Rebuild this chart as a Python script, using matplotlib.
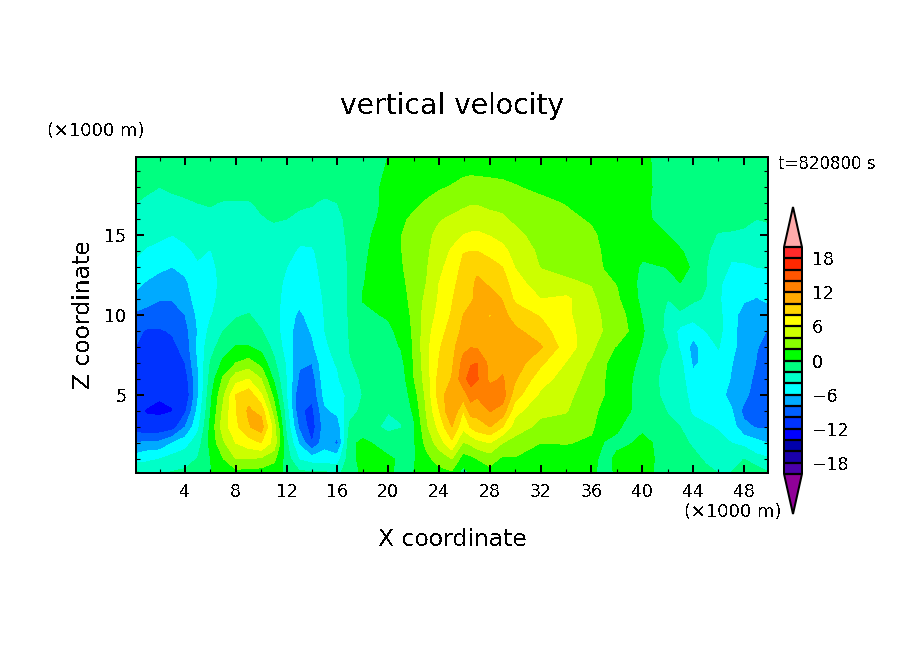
import numpy as np
import matplotlib
matplotlib.use("Agg")
import matplotlib.pyplot as plt

plt.rcParams['font.family'] = ['DejaVu Sans']
plt.rcParams['text.antialiased'] = False

# z levels of the table rows (top to bottom)
z_rows = [20, 18, 17, 16, 15, 14, 13, 12, 11, 10, 9, 8, 7, 6, 5, 4, 3, 2, 1, 0.1]

# x position (km) -> vertical velocity profile, top to bottom
profiles = [
 (0.1, [-1,-1.5,-2,-2.6,-3,-3.7,-4.4,-5.5,-6.5,-8.5,-9.6,-10,-10.8,-11.2,-11.5,-11.9,-11,-8,-5,-1.5]),
 (1,   [-1,-1.8,-2.2,-2.8,-3.4,-4.2,-5,-6.2,-7.2,-8.8,-10.2,-10.5,-11,-11.4,-11.8,-12.05,-11.8,-7.5,-4.5,-2]),
 (2,   [-0.8,-2,-2.4,-3,-3.7,-4.5,-5.6,-6.8,-7.9,-9,-10.2,-10.8,-11,-11.4,-11.9,-12.2,-11.5,-7.5,-4,-2.2]),
 (3,   [-0.9,-1.8,-2.3,-2.8,-4,-4.8,-6,-7,-7.9,-8.8,-9.8,-10.5,-11,-11.3,-11.8,-12.05,-11,-6,-3.2,-1.8]),
 (4,   [-0.9,-1.6,-2.2,-2.7,-3.5,-4.5,-5.4,-6.4,-7,-8,-8.8,-9.3,-10,-11,-11.8,-10.4,-8,-4.8,-2.8,-1.6]),
 (5,   [-0.8,-1.5,-2,-2.5,-3,-3.6,-4.3,-4.7,-5.1,-5.6,-5.9,-5.6,-6,-6.5,-6.3,-5.5,-4.5,-3,-1.9,-1.2]),
 (6,   [-0.7,-1.2,-1.9,-2.3,-2.9,-4.1,-4.6,-4.8,-4.6,-4.2,-3.4,-2.7,-1.9,-1.2,-0.5,-0.1,0.5,0.6,0,-0.1]),
 (7,   [-0.7,-1.3,-2.1,-2.4,-2.7,-3,-3.2,-3.4,-3.2,-2.9,-2,-1,0.4,2.3,3.6,4.4,5,3.6,1.9,0.8]),
 (8,   [-0.8,-1.3,-2.1,-2.5,-2.7,-2.9,-3,-3.1,-3,-2.2,-1.2,0.1,2,5.2,8,7.9,7.5,6,4,1.2]),
 (9,   [-0.8,-1.4,-2.1,-2.5,-2.8,-2.9,-3,-3.1,-2.9,-1.9,-1,0.1,2.8,6,9.3,10.3,9.8,7,4,1]),
 (10,  [-0.9,-1.5,-1.8,-2.1,-2.6,-2.9,-3,-3.1,-3,-2.7,-1.9,-0.6,1.3,4,6.2,9.4,11,8,3.6,1]),
 (11,  [-0.9,-1.2,-1.5,-1.9,-2.4,-2.6,-2.7,-2.9,-3,-3,-3,-2.6,-1.6,-0.4,1.4,3,5,5.3,2.5,0.6]),
 (12,  [-1,-1.1,-1.4,-2,-2.6,-3.3,-4,-4.6,-5,-5.3,-5.2,-4.8,-4.3,-4.1,-4,-3.2,-2.6,-1.7,-1,-0.3]),
 (13,  [-1,-1.2,-1.7,-2.4,-3.4,-4.3,-4.6,-5,-5.5,-6.3,-6.9,-7.3,-7.7,-8.4,-9.8,-9.7,-8.4,-6.3,-4.2,-1.5]),
 (14,  [-1,-1.3,-1.9,-2.4,-3.5,-4.2,-4.5,-4.7,-5,-5.4,-5.8,-6.4,-8,-9,-9.6,-10.5,-11,-10,-5,-1.5]),
 (15,  [-0.9,-1.4,-2.3,-2.8,-3,-3.2,-3.4,-3.6,-3.8,-3.9,-4,-4.2,-4.4,-4.7,-5.3,-6.4,-7,-6.6,-5.2,-1.5]),
 (16,  [-1,-1.3,-2,-2.4,-2.6,-2.8,-3,-3.2,-3.3,-3.4,-3.5,-3.6,-3.9,-4.2,-4.3,-5.5,-7.2,-8.5,-5,-2.4]),
 (17,  [-0.4,-0.8,-1.2,-1.5,-1.6,-1.7,-1.7,-1.7,-1.7,-1.7,-1.8,-1.9,-2.1,-2.7,-3.8,-2.8,-1.5,-0.3,-0.6,-1]),
 (18,  [-0.6,-0.6,-0.6,-0.5,-0.4,-0.3,-0.2,-0.1,0.1,-0.4,-1,-1.4,-1.6,-1.7,-1.9,-1.5,-0.8,0.3,0.6,0.4]),
 (20,  [0,0.3,0.3,0.4,0.8,1,1.2,1.3,1,0.2,-0.4,-0.6,-1.2,-1.6,-1.7,-1.9,-2.6,-0.6,0.2,0.2]),
 (21,  [0.2,0.5,1,1.6,1.95,1.9,1.7,1.5,1.4,1,0.5,0.1,-0.6,-1.1,-1.4,-1.7,-2.1,-0.9,-0.2,-0.3]),
 (22,  [0.4,0.8,1.5,2.4,2.9,3.3,3.3,2.8,2.5,2.4,2.3,2.2,2.1,1.9,1,0.3,-0.4,-0.3,-0.2,0]),
 (23,  [0.5,1.3,2.2,2.9,3.4,3.6,3.8,4,4.5,5,5.2,5.4,5.2,4.9,4.5,4.1,3.6,2.6,1.4,0.6]),
 (24,  [0.5,1.8,2.7,3.8,4.6,5.1,5.5,6,6.2,6.5,7.2,7.8,8.1,8.7,8.9,7.9,6.6,4.9,2.8,1.2]),
 (25,  [0.8,2.1,3.2,4.3,5.3,6.2,6.8,7.4,7.8,8.2,8.8,9.3,9.6,10.1,11.5,12,10,7.5,4,1.6]),
 (25.9,[0.8,2.5,3.6,4.7,6,7.9,8.5,8.9,9.5,10,10.5,11.5,12.6,13.2,11,8,6.5,3.8,1,-1]),
 (26.5,[0.9,2.6,3.8,5.1,6.2,8,8.9,9.3,9.8,10.5,11,11.9,13.8,15,12.8,11,8.2,4.4,1.4,0.2]),
 (27,  [1,2.5,3.8,5.1,6.3,8,9.2,10.6,10.3,10.6,11.2,11.8,14,14.2,12.3,10.6,9.2,5.2,2,0.8]),
 (28,  [1,2.4,3.5,4.6,5.9,7.4,8.7,9.6,11,9.9,10.3,11,11.4,11.5,13.1,12.1,10,6,2.8,1.3]),
 (29,  [1,2.3,3.4,4.3,5.4,6.5,8,9,9.9,10.6,10.8,11,11.5,12.2,13,11.2,8,4,1.6,0.8]),
 (30,  [0.8,2.1,3,3.6,4.5,5.3,5.9,6.8,7.6,9.1,10.4,10.8,11.1,10.2,8.8,6.6,5,3.2,1.8,1]),
 (32,  [0.7,1.6,2.4,2.9,3.2,3.6,3.9,4.9,6,7.8,9,10.2,8.4,6.8,5.6,4.5,3.4,2,1.2,0.6]),
 (34,  [0.6,1.2,1.9,2.4,2.8,3,3.3,4.4,6.4,6.3,6.5,7,5.9,5.1,4.5,4.1,3.3,2.1,0.9,0.4]),
 (36,  [0.5,0.8,1.4,1.8,2.3,2.5,2.7,3.8,4.6,5,5.2,4.6,3.6,3.2,2.9,2.6,2.3,1.7,0.5,0.3]),
 (37,  [0.6,0.7,1,1.3,1.6,1.8,1.9,2.4,3,3.6,3.8,2.6,2.1,2.05,2,1.4,0.9,-0.1,-0.5,-0.5]),
 (38,  [0.6,0.7,1,1.2,1.4,1.6,1.7,1.9,2.4,3.1,2.9,1.9,1.6,1.3,1,0.7,0.2,-0.3,0.3,0.2]),
 (39,  [0.5,0.6,0.7,0.8,0.9,0.9,0.8,0.6,0.6,1.5,1.9,0.9,0.4,0.15,0.1,0.05,-0.4,-0.1,0.7,0.5]),
 (40,  [0.4,0.5,0.4,0.5,0.6,0.5,-0.3,-0.5,-0.3,-0.1,0.2,-0.1,-0.4,-0.6,-0.5,-0.4,-0.3,0.4,0.9,0.6]),
 (42,  [-0.8,-0.8,-0.9,-0.8,0,0.5,0.05,-0.4,-2,-2.4,-2.5,-2,-2.6,-2.8,-2.7,-2.1,-1.6,-0.6,-1,-0.8]),
 (43,  [-0.7,-0.8,-0.9,-0.9,-0.5,0.1,0.5,0,-1,-2.4,-4.6,-4.3,-3.5,-3.2,-2.9,-2.5,-2,-1.6,-1,-0.8]),
 (44,  [-0.6,-0.8,-1,-1.1,-1,-0.4,-0.2,-0.6,-1.7,-3.1,-5.3,-6.7,-6.3,-5.5,-4.9,-4.4,-3.1,-2.2,-1.6,-1.4]),
 (45,  [-0.9,-1,-1.2,-1.4,-1.6,-1.8,-1.9,-1.9,-2.2,-3,-4,-5,-5.6,-5.4,-5.5,-4.9,-3.7,-3,-2.2,-1.6]),
 (46,  [-1,-1.1,-1.3,-1.5,-2.1,-2.5,-3.1,-3.8,-3.8,-3.6,-3.5,-3.9,-4.5,-5,-5.2,-5,-4.2,-3.4,-2.8,-2]),
 (47,  [-0.9,-1.1,-1.2,-1.4,-2.2,-3.6,-4.2,-4.5,-4.9,-5,-5.2,-5.5,-5.9,-6.1,-6.7,-5.7,-5,-4,-3,-1.9]),
 (48,  [-1,-1.2,-1.3,-1.5,-2.4,-3,-4.4,-4.9,-5.7,-7,-7,-6.8,-6.9,-7.1,-7.3,-8.6,-7.4,-4.6,-2,0.3]),
 (49,  [-1,-1.4,-1.5,-2,-2.8,-3.4,-4,-5.4,-6.1,-7.5,-7.7,-7.9,-8.1,-8.5,-9.2,-9.4,-8.2,-5.3,-3.4,-0.6]),
 (50,  [-1,-1.5,-1.7,-1.9,-2.3,-3.3,-3.9,-4.6,-5.7,-6.7,-8.1,-8.6,-9,-9.4,-10.2,-9.5,-8.3,-6.1,-3.8,-1.8]),
]

levels = list(range(-20, 21, 2))
band_colors = ['#900098', '#4B00AA', '#1A00AA', '#0000AA', '#0000FF', '#0033FF', '#0060FF',
               '#00AAFF', '#00FFFF', '#00FFC8', '#00FF80', '#00FF00', '#88FF00', '#CCFF00',
               '#FFFF00', '#FFD500', '#FFAA00', '#FF8000', '#FF5500', '#FF2800', '#FF2A2A', '#FFAAAA']
cbar_ticks = [-18, -12, -6, 0, 6, 12, 18]

x = np.array([p[0] for p in profiles], dtype=float)
z = np.array(z_rows, dtype=float)[::-1]
w = np.array([p[1] for p in profiles], dtype=float).T[::-1]

W, H = 904, 654
fig = plt.figure(figsize=(W / 100, H / 100), dpi=100, facecolor='white')

def box(l, t, r, b):
    return [l / W, 1 - b / H, (r - l) / W, (b - t) / H]

ax = fig.add_axes(box(136, 157, 768, 473))
cf = ax.contourf(x, z, w, levels=levels, colors=band_colors, extend='both', antialiased=False)
ax.set_xlim(0.14, 49.9)
ax.set_ylim(0.125, 19.875)

ax.set_xticks([4, 8, 12, 16, 20, 24, 28, 32, 36, 40, 44, 48])
ax.set_xticks([2, 6, 10, 14, 18, 22, 26, 30, 34, 38, 42, 46], minor=True)
ax.set_yticks([5, 10, 15])
ax.set_yticks([v for v in range(1, 20) if v % 5], minor=True)
ax.tick_params(which='major', direction='in', top=True, right=True, length=5.8, width=1.44,
               labelsize=12.5, pad=7)
ax.tick_params(which='minor', direction='in', top=True, right=True, length=3, width=0.8)
for s in ax.spines.values():
    s.set_linewidth(1.44)

fig.text(452 / W, 1 - 106 / H, 'vertical velocity', ha='center', va='center', fontsize=20.3)
fig.text(452 / W, 1 - 540 / H, 'X coordinate', ha='center', va='center', fontsize=16.9)
fig.text(83 / W, 1 - 315 / H, 'Z coordinate', ha='center', va='center', rotation=90, fontsize=16.9)
fig.text(47 / W, 1 - 131 / H, '(×1000 m)', ha='left', va='center', fontsize=12.9)
fig.text(684 / W, 1 - 512 / H, '(×1000 m)', ha='left', va='center', fontsize=12.9)
fig.text(778 / W, 1 - 164 / H, 't=820800 s', ha='left', va='center', fontsize=12)

cax = fig.add_axes(box(784, 207, 802, 514))
cb = fig.colorbar(cf, cax=cax, extend='both', extendfrac=40 / 226, drawedges=True,
                  ticks=cbar_ticks, spacing='uniform')
cb.outline.set_linewidth(1.44)
cb.dividers.set_linewidth(1.6)
cb.dividers.set_color('black')
cax.tick_params(length=0, labelsize=12.5, pad=7)
cax.minorticks_off()

fig.savefig('out.png', dpi=100)
